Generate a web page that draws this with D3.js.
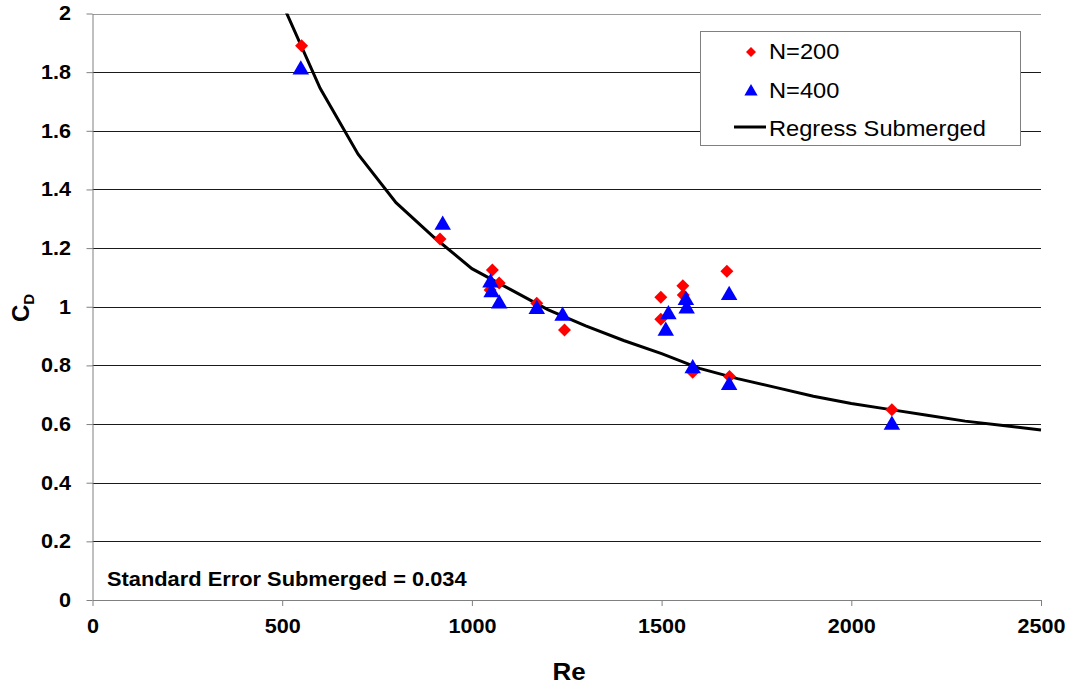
<!DOCTYPE html>
<html>
<head>
<meta charset="utf-8">
<script src="https://cdn.jsdelivr.net/npm/d3@7"></script>
<style>
  body { margin: 0; background: #fff; }
  svg { font-family: "Liberation Sans", Arial, sans-serif; }
</style>
</head>
<body>
<svg id="chart" width="1065" height="686"></svg>
<script>
// Re / CD readings, N=200 (red diamonds)
const re200 = [551, 916, 1054, 1072, 1048, 1171, 1244, 1498, 1498, 1556, 1557, 1672, 1582, 1679, 2107]
const cd200 = [1.89, 1.231, 1.125, 1.081, 1.057, 1.012, 0.921, 1.032, 0.957, 1.072, 1.04, 1.121, 0.777, 0.762, 0.649]

// N=400 (blue triangles)
const re400 = [549, 923, 1049, 1052, 1072, 1171, 1239, 1518, 1511, 1564, 1566, 1678, 1582, 1678, 2107]
const cd400 = [1.815, 1.286, 1.089, 1.055, 1.017, 0.998, 0.975, 0.98, 0.924, 1.029, 1.0, 1.046, 0.796, 0.739, 0.604]

// regression curve
const curveRe = [500, 600, 700, 800, 900, 1000, 1100, 1200, 1300, 1400, 1500, 1600, 1700, 1800, 1900, 2000, 2100, 2200, 2300, 2400, 2500]
const curveCd = [2.035, 1.745, 1.52, 1.355, 1.237, 1.13, 1.06, 0.99, 0.935, 0.885, 0.84, 0.79, 0.755, 0.725, 0.695, 0.67, 0.65, 0.63, 0.61, 0.595, 0.58]

const xTicks = [0, 500, 1000, 1500, 2000, 2500]
const xTickLabels = ['0', '500', '1000', '1500', '2000', '2500']
const yTicks = [0, 0.2, 0.4, 0.6, 0.8, 1, 1.2, 1.4, 1.6, 1.8, 2]
const yTickLabels = ['0', '0.2', '0.4', '0.6', '0.8', '1', '1.2', '1.4', '1.6', '1.8', '2']
const seriesNames = ['N=200', 'N=400', 'Regress Submerged']

const svg = d3.select('#chart')

const plotLeft = 92.5, plotRight = 1041, plotTop = 13.5, plotBottom = 600

const x = d3.scaleLinear().domain([0, 2500]).range([plotLeft, plotRight])
const y = d3.scaleLinear().domain([0, 2]).range([plotBottom, plotTop])

// gridlines
svg.append('g')
  .selectAll('line')
  .data(yTicks.filter(d => d > 0))
  .enter()
  .append('line')
  .attr('x1', plotLeft)
  .attr('x2', plotRight)
  .attr('y1', d => Math.round(y(d)) + 0.5)
  .attr('y2', d => Math.round(y(d)) + 0.5)
  .attr('stroke', d => d === 2 ? '#9a9a9a' : '#1a1a1a')
  .attr('stroke-width', 1)

// axes
const xAxis = d3.axisBottom(x).tickValues(xTicks).tickSize(6).tickPadding(13).tickSizeOuter(0)
  .tickFormat((d, i) => xTickLabels[i])
const yAxis = d3.axisLeft(y).tickValues(yTicks).tickSize(6).tickPadding(14).tickSizeOuter(0)
  .tickFormat((d, i) => yTickLabels[i])

const gx = svg.append('g').attr('transform', `translate(0, ${plotBottom})`).call(xAxis)
const gy = svg.append('g').attr('transform', `translate(${plotLeft}, 0)`).call(yAxis)

;[gx, gy].forEach(g => {
  g.select('.domain').attr('stroke', '#808080')
  g.selectAll('.tick line').attr('stroke', '#808080')
  g.selectAll('.tick text')
    .attr('fill', '#000')
    .attr('font-size', 20)
    .attr('font-weight', 'bold')
    .attr('font-family', '"Liberation Sans", Arial, sans-serif')
    .attr('transform', 'scale(1.08,1)')
})

// clip to plot area
svg.append('clipPath').attr('id', 'plotclip')
  .append('rect')
  .attr('x', plotLeft).attr('y', plotTop)
  .attr('width', plotRight - plotLeft + 6).attr('height', plotBottom - plotTop)

const line = d3.line()
  .x((d, i) => x(curveRe[i]))
  .y(d => y(d))

svg.append('path')
  .datum(curveCd)
  .attr('clip-path', 'url(#plotclip)')
  .attr('d', line)
  .attr('fill', 'none')
  .attr('stroke', '#000')
  .attr('stroke-width', 3)

const diamond = r => `M0,${-r}L${r},0L0,${r}L${-r},0Z`
const triangle = r => `M0,${-r}L${r * 1.1},${r * 0.9}L${-r * 1.1},${r * 0.9}Z`

svg.append('g')
  .selectAll('path')
  .data(re200)
  .enter()
  .append('path')
  .attr('transform', (d, i) => `translate(${x(d)}, ${y(cd200[i])})`)
  .attr('d', diamond(6.5))
  .attr('fill', '#ff0000')

svg.append('g')
  .selectAll('path')
  .data(re400)
  .enter()
  .append('path')
  .attr('transform', (d, i) => `translate(${x(d)}, ${y(cd400[i])})`)
  .attr('d', triangle(7.5))
  .attr('fill', '#0000ff')

// legend
const legend = svg.append('g')
legend.append('rect')
  .attr('x', 700.5).attr('y', 31.5)
  .attr('width', 320).attr('height', 114)
  .attr('fill', '#fff')
  .attr('stroke', '#808080')

legend.append('path').attr('transform', 'translate(751, 52)').attr('d', diamond(5)).attr('fill', '#ff0000')
legend.append('path').attr('transform', 'translate(751, 90)').attr('d', triangle(6)).attr('fill', '#0000ff')
legend.append('line')
  .attr('x1', 734).attr('x2', 766).attr('y1', 127).attr('y2', 127)
  .attr('stroke', '#000').attr('stroke-width', 3)

legend.selectAll('text.lg')
  .data(seriesNames)
  .enter()
  .append('text')
  .attr('class', 'lg')
  .attr('transform', (d, i) => `translate(769, ${59 + i * 38.5}) scale(1.1,1)`)
  .attr('font-size', 21.5)
  .text(d => d)

svg.append('text')
  .attr('transform', 'translate(107, 586) scale(1.12,1)')
  .attr('font-size', 19.5)
  .attr('font-weight', 'bold')
  .text('Standard Error Submerged = 0.034')

svg.append('text')
  .attr('transform', 'translate(569, 680) scale(1.08,1)')
  .attr('text-anchor', 'middle')
  .attr('font-size', 24)
  .attr('font-weight', 'bold')
  .text('Re')

const yt = svg.append('text')
  .attr('transform', 'translate(29, 308) rotate(-90)')
  .attr('text-anchor', 'middle')
  .attr('font-size', 24)
  .attr('font-weight', 'bold')
yt.append('tspan').text('C')
yt.append('tspan').attr('font-size', 15).attr('dy', 5).text('D')
</script>
</body>
</html>
